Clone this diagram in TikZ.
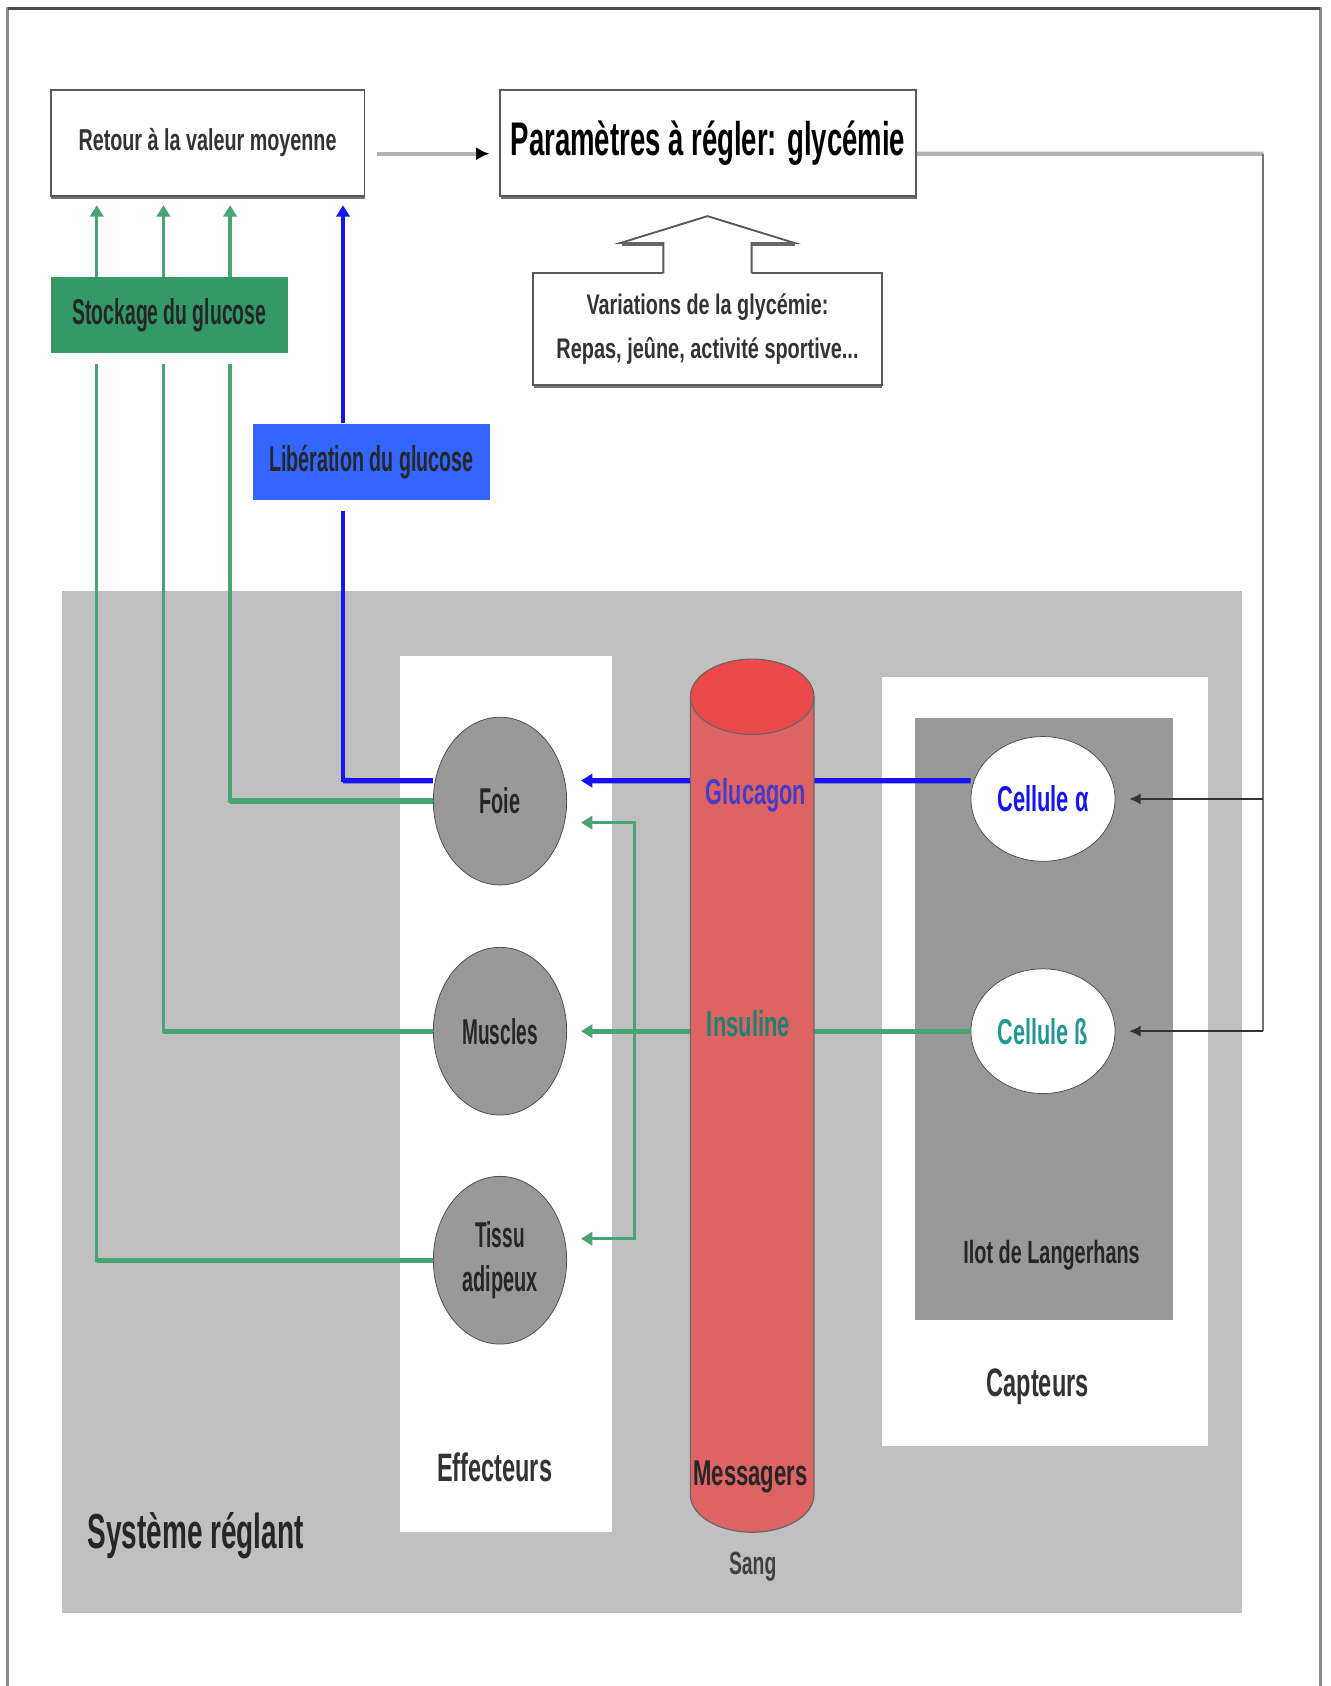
\documentclass[tikz,border=0pt]{standalone}
\usepackage{fontspec}
\setmainfont{Liberation Sans}
\usepackage{graphicx}
\usetikzlibrary{arrows.meta,shapes.geometric,shadows}
\definecolor{stockgreen}{RGB}{51,153,102}
\definecolor{linegreen}{RGB}{72,165,115}
\definecolor{libblue}{RGB}{51,102,255}
\definecolor{lineblue}{RGB}{20,20,245}
\definecolor{reglgray}{RGB}{192,192,192}
\definecolor{ilotgray}{RGB}{153,153,153}
\definecolor{bloodbody}{RGB}{222,99,99}
\definecolor{bloodtop}{RGB}{236,74,74}
\definecolor{glucatext}{RGB}{70,60,200}
\definecolor{insutext}{RGB}{30,130,115}
\definecolor{cellteal}{RGB}{35,150,150}
\newcommand\fit[2]{\resizebox{#1}{\height}{#2}}

\begin{document}
\begin{tikzpicture}[x=0.02cm, y=-0.02cm,
    box/.style={draw=black!65, line width=1pt, fill=white,
      drop shadow={shadow xshift=0.4pt, shadow yshift=-1.6pt, fill=black!55, opacity=1}},
    organ/.style={ellipse, draw=black!70, fill=ilotgray, minimum width=2.48cm, minimum height=3.12cm,
      inner sep=0pt, align=center, font=\bfseries\fontsize{19}{23}\selectfont, text=black!85},
    cellnode/.style={ellipse, draw=black!70, fill=white, minimum width=2.68cm, minimum height=2.32cm,
      inner sep=0pt, font=\bfseries\fontsize{19}{21}\selectfont},
    title/.style={font=\bfseries\fontsize{21}{23}\selectfont, text=black!80},
    greenline/.style={draw=linegreen, line width=1.8pt},
    blueline/.style={draw=lineblue, line width=1.8pt},
    wide/.style={line width=2.8pt},
    headed/.style={-{Triangle[length=6pt,width=7pt]}},
    feed/.style={draw=black!80, line width=0.8pt, -{Latex[length=6pt,width=6pt]}}]
  \useasboundingbox (0,0) rectangle (1237,1568);
  \draw[black!45, line width=1.2pt] (7,1600) -- (7,8) -- (1228,8) -- (1228,1600);
  \draw[black!70, line width=2pt] (7,8) -- (1228,8);
  \fill[reglgray] (58,550) rectangle (1155,1500);
  \fill[white] (372,610) rectangle (569,1425);
  \fill[white] (820,630) rectangle (1123,1345);
  \fill[ilotgray] (851,668) rectangle (1091,1228);

  \node[box, minimum width=5.84cm, minimum height=1.96cm, font=\bfseries\fontsize{16}{18}\selectfont, text=black!80]
    (retour) at (193,133) {\fit{4.8cm}{Retour à la valeur moyenne}};
  \node[box, minimum width=7.74cm, minimum height=1.96cm, font=\bfseries\fontsize{25}{27}\selectfont]
    (param) at (658.5,133) {\fit{7.34cm}{Paramètres à régler: glycémie}};
  \node[box, minimum width=6.48cm, minimum height=2.08cm, align=center, font=\bfseries\fontsize{15}{23.2}\selectfont, text=black!80]
    (variation) at (658,306) {\fit{4.5cm}{Variations de la glycémie:}\\\fit{5.62cm}{Repas, jeûne, activité sportive...}};
  \fill[white] (617,256) -- (617,226) -- (577,226) -- (658,201) -- (739,226) -- (699,226) -- (699,256) -- cycle;
  \draw[black!65, line width=1pt] (617,254) -- (617,226) -- (577,226) -- (658,201) -- (739,226) -- (699,226) -- (699,254);
  \draw[black!60, line width=1.8pt] (578,227) -- (617,227) (699,227) -- (739,227);

  \node[fill=stockgreen, minimum width=4.42cm, minimum height=1.4cm, font=\bfseries\fontsize{19}{21}\selectfont, text=black!85]
    (stockage) at (157.5,293) {\fit{3.6cm}{Stockage du glucose}};
  \node[fill=libblue, minimum width=4.42cm, minimum height=1.42cm, font=\bfseries\fontsize{19}{21}\selectfont, text=black!85]
    (liberation) at (345.5,429.5) {\fit{3.8cm}{Libération du glucose}};

  \node[organ] (foie) at (465,745) {\fit{0.76cm}{Foie}};
  \node[organ] (muscles) at (465,959) {\fit{1.4cm}{Muscles}};
  \node[organ] (tissu) at (465,1172) {\fit{0.92cm}{Tissu}\\\fit{1.4cm}{adipeux}};
  \node[cellnode, text=lineblue] (cella) at (970,743) {\fit{1.7cm}{Cellule α}};
  \node[cellnode, text=cellteal] (cellb) at (970,959) {\fit{1.68cm}{Cellule ß}};

  \coordinate (g1) at (90,0);
  \coordinate (g2) at (152,0);
  \coordinate (g3) at (214,0);
  \coordinate (b1) at (319,0);
  \coordinate (vb) at (590,0);
  \coordinate (rt) at (1175,143);

  \draw[greenline, headed, shorten >=0.16cm] (g1 |- stockage.north) -- (g1 |- retour.south);
  \draw[greenline, headed, shorten >=0.16cm] (g2 |- stockage.north) -- (g2 |- retour.south);
  \draw[greenline, headed, shorten >=0.16cm] (g3 |- stockage.north) -- (g3 |- retour.south);
  \draw[blueline, headed, shorten >=0.16cm] (b1 |- liberation.north) -- (b1 |- retour.south);
  \draw[greenline, shorten >=0.2cm] (foie.west) -| (g3 |- stockage.south);
  \draw[greenline, shorten >=0.2cm] (muscles.west) -| (g2 |- stockage.south);
  \draw[greenline, shorten >=0.2cm] (tissu.west) -| (g1 |- stockage.south);
  \draw[blueline, shorten >=0.2cm] ([yshift=0.38cm]foie.west) -| (b1 |- liberation.south);
  \draw[greenline, wide] (foie.west) -- (g3 |- foie.west);
  \draw[greenline, wide] (muscles.west) -- (g2 |- muscles.west);
  \draw[greenline, wide] (tissu.west) -- (g1 |- tissu.west);
  \draw[blueline, wide] ([yshift=0.38cm]foie.west) -- (b1 |- 0,726);

  \draw[blueline, wide, headed] ([yshift=0.34cm]cella.west) -- ([xshift=0.26cm, yshift=0.38cm]foie.east);
  \draw[greenline, wide, headed] (cellb.west) -- ([xshift=0.26cm]muscles.east);
  \draw[greenline, headed] (vb |- cellb.west) |- ([xshift=0.26cm, yshift=-0.4cm]foie.east);
  \draw[greenline, headed] (vb |- cellb.west) |- ([xshift=0.26cm, yshift=0.4cm]tissu.east);

  \draw[gray!60, line width=2.2pt, -{Latex[color=black, length=7pt, width=7pt]}, shorten <=0.22cm, shorten >=0.18cm]
    ([yshift=-0.2cm]retour.east) -- ([yshift=-0.2cm]param.west);
  \draw[gray!60, line width=2.2pt] ([yshift=-0.2cm]param.east) -- (rt);
  \draw[black!55, line width=1pt] (rt) -- (rt |- cellb.east);
  \draw[feed] (rt |- cella.east) -- ([xshift=0.26cm]cella.east);
  \draw[feed] (rt |- cellb.east) -- ([xshift=0.26cm]cellb.east);

  \filldraw[fill=bloodbody, draw=black!60, line width=0.6pt]
    (642,648) -- (642,1390) arc[start angle=180, end angle=0, x radius=57.5, y radius=35] -- (757,648);
  \filldraw[fill=bloodtop, draw=black!60, line width=0.6pt] (699.5,648) ellipse [x radius=57.5, y radius=35];

  \node[font=\bfseries\fontsize{19}{21}\selectfont, text=glucatext] (glucagon) at (703,740) {\fit{1.86cm}{Glucagon}};
  \node[font=\bfseries\fontsize{19}{21}\selectfont, text=insutext] (insuline) at (696,952) {\fit{1.54cm}{Insuline}};
  \node[font=\bfseries\fontsize{19}{21}\selectfont, text=black!85] (messagers) at (698,1374) {\fit{2.12cm}{Messagers}};
  \node[font=\bfseries\fontsize{17}{19}\selectfont, text=black!75] (sang) at (700,1457) {\fit{0.88cm}{Sang}};
  \node[title] (effecteurs) at (460,1365) {\fit{2.14cm}{Effecteurs}};
  \node[title] (capteurs) at (965,1290) {\fit{1.9cm}{Capteurs}};
  \node[font=\bfseries\fontsize{17}{19}\selectfont, text=black!85] (ilot) at (978,1167) {\fit{3.28cm}{Ilot de Langerhans}};
  \node[font=\bfseries\fontsize{26}{28}\selectfont, text=black!85] (reglant) at (182,1428) {\fit{4.02cm}{Système réglant}};
\end{tikzpicture}
\end{document}
